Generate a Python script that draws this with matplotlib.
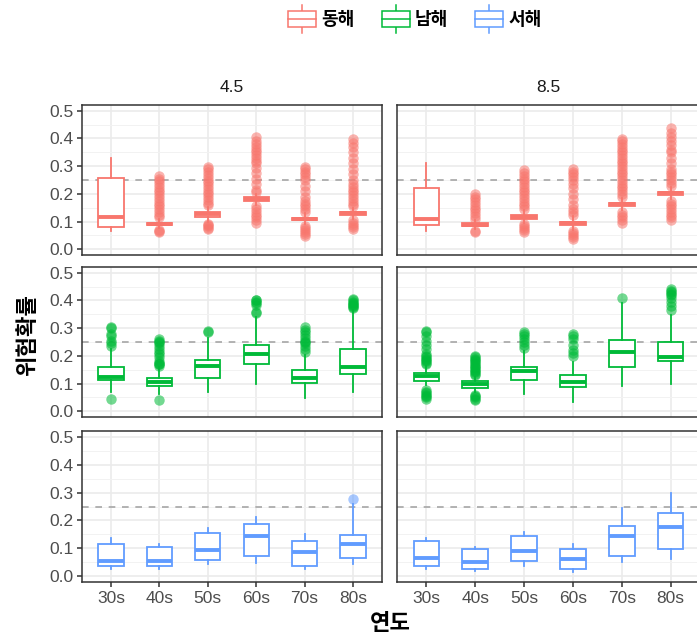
import matplotlib
matplotlib.use("Agg")
import matplotlib.pyplot as plt
from matplotlib.font_manager import FontProperties
from matplotlib.legend_handler import HandlerBase
from matplotlib.lines import Line2D
from matplotlib.patches import Patch, Rectangle

plt.rcParams["font.family"] = ["Liberation Sans", "DejaVu Sans"]
KR = ["Noto Sans CJK KR", "DejaVu Sans"]

# --- data -------------------------------------------------------------------
decades = ["30s", "40s", "50s", "60s", "70s", "80s"]
regions = ["동해", "남해", "서해"]
scenarios = ["4.5", "8.5"]
threshold = 0.25

# rows: 동해, 남해, 서해 ; columns: decades
med_45 = [[0.115, 0.091, 0.127, 0.181, 0.109, 0.130],
          [0.125, 0.105, 0.162, 0.208, 0.121, 0.160],
          [0.053, 0.056, 0.095, 0.143, 0.086, 0.116]]
q1_45 = [[0.079, 0.086, 0.117, 0.175, 0.104, 0.125],
         [0.114, 0.090, 0.121, 0.169, 0.102, 0.133],
         [0.036, 0.035, 0.059, 0.071, 0.036, 0.066]]
q3_45 = [[0.258, 0.096, 0.136, 0.187, 0.114, 0.135],
         [0.160, 0.121, 0.186, 0.238, 0.148, 0.226],
         [0.116, 0.104, 0.156, 0.188, 0.126, 0.149]]
lo_45 = [[0.064, 0.075, 0.098, 0.160, 0.090, 0.110],
         [0.069, 0.063, 0.071, 0.097, 0.048, 0.071],
         [0.024, 0.024, 0.044, 0.048, 0.026, 0.042]]
hi_45 = [[0.328, 0.110, 0.152, 0.200, 0.130, 0.150],
         [0.226, 0.160, 0.263, 0.341, 0.202, 0.366],
         [0.138, 0.114, 0.173, 0.212, 0.152, 0.260]]

med_85 = [[0.108, 0.088, 0.115, 0.094, 0.162, 0.202],
          [0.126, 0.097, 0.144, 0.105, 0.214, 0.196],
          [0.065, 0.052, 0.089, 0.062, 0.143, 0.176]]
q1_85 = [[0.088, 0.083, 0.108, 0.088, 0.157, 0.197],
         [0.109, 0.085, 0.114, 0.087, 0.160, 0.182],
         [0.038, 0.026, 0.053, 0.024, 0.072, 0.096]]
q3_85 = [[0.220, 0.093, 0.122, 0.100, 0.167, 0.207],
         [0.139, 0.109, 0.160, 0.130, 0.257, 0.251],
         [0.125, 0.096, 0.143, 0.098, 0.181, 0.227]]
lo_85 = [[0.066, 0.072, 0.095, 0.070, 0.140, 0.180],
         [0.093, 0.068, 0.063, 0.033, 0.090, 0.099],
         [0.025, 0.018, 0.038, 0.014, 0.050, 0.062]]
hi_85 = [[0.3125, 0.105, 0.140, 0.120, 0.185, 0.225],
         [0.162, 0.125, 0.218, 0.178, 0.390, 0.347],
         [0.137, 0.104, 0.157, 0.114, 0.246, 0.299]]

fliers_45 = [
    [[],
     [0.062, 0.066, 0.070, 0.115, 0.125, 0.135, 0.145, 0.155, 0.165, 0.175,
      0.185, 0.195, 0.205, 0.215, 0.225, 0.235, 0.245, 0.255, 0.266],
     [0.072, 0.077, 0.082, 0.087, 0.092, 0.158, 0.168, 0.178, 0.188, 0.198,
      0.208, 0.218, 0.228, 0.238, 0.248, 0.258, 0.268, 0.278, 0.288, 0.296],
     [0.096, 0.105, 0.115, 0.125, 0.135, 0.145, 0.155, 0.205, 0.215, 0.235,
      0.255, 0.275, 0.295, 0.31, 0.32, 0.33, 0.34, 0.35, 0.36, 0.37, 0.38,
      0.39, 0.404],
     [0.048, 0.055, 0.062, 0.070, 0.078, 0.085, 0.135, 0.145, 0.155, 0.165,
      0.175, 0.19, 0.21, 0.23, 0.25, 0.26, 0.27, 0.28, 0.29, 0.296],
     [0.072, 0.080, 0.088, 0.096, 0.104, 0.155, 0.165, 0.175, 0.185, 0.195,
      0.205, 0.215, 0.225, 0.235, 0.25, 0.27, 0.29, 0.31, 0.33, 0.35, 0.37,
      0.385, 0.398]],
    [[0.045, 0.235, 0.245, 0.255, 0.27, 0.28, 0.30, 0.305],
     [0.039, 0.165, 0.17, 0.172, 0.175, 0.18, 0.195, 0.205, 0.215, 0.225,
      0.235, 0.245, 0.25, 0.255, 0.26],
     [0.287, 0.29],
     [0.353, 0.36, 0.385, 0.39, 0.395, 0.40, 0.402],
     [0.215, 0.225, 0.235, 0.245, 0.25, 0.255, 0.265, 0.275, 0.285, 0.295,
      0.305],
     [0.372, 0.376, 0.38, 0.384, 0.388, 0.392, 0.396, 0.40, 0.405]],
    [[], [], [], [], [], [0.278]],
]
fliers_85 = [
    [[],
     [0.0625, 0.067, 0.11, 0.12, 0.13, 0.14, 0.15, 0.16, 0.17, 0.18, 0.19,
      0.20],
     [0.0625, 0.07, 0.077, 0.085, 0.09, 0.145, 0.155, 0.165, 0.175, 0.185,
      0.195, 0.205, 0.215, 0.225, 0.235, 0.245, 0.255, 0.265, 0.275, 0.285],
     [0.038, 0.045, 0.052, 0.06, 0.067, 0.125, 0.135, 0.145, 0.16, 0.18,
      0.20, 0.22, 0.235, 0.25, 0.26, 0.27, 0.28, 0.29],
     [0.096, 0.105, 0.115, 0.125, 0.135, 0.19, 0.20, 0.21, 0.22, 0.23, 0.24,
      0.25, 0.26, 0.27, 0.28, 0.29, 0.30, 0.31, 0.32, 0.33, 0.34, 0.35, 0.36,
      0.37, 0.38, 0.39, 0.398],
     [0.106, 0.115, 0.125, 0.135, 0.145, 0.155, 0.165, 0.175, 0.23, 0.24,
      0.25, 0.26, 0.27, 0.28, 0.29, 0.31, 0.33, 0.35, 0.36, 0.375, 0.39,
      0.405, 0.42, 0.4375]],
    [[0.045, 0.05, 0.055, 0.06, 0.065, 0.07, 0.075, 0.17, 0.175, 0.18, 0.185,
      0.19, 0.195, 0.20, 0.205, 0.225, 0.24, 0.255, 0.27, 0.285, 0.29],
     [0.04, 0.045, 0.05, 0.055, 0.06, 0.13, 0.135, 0.14, 0.145, 0.15, 0.155,
      0.16, 0.165, 0.17, 0.175, 0.18, 0.185, 0.19, 0.195, 0.20],
     [0.23, 0.24, 0.25, 0.26, 0.27, 0.28, 0.287],
     [0.20, 0.21, 0.22, 0.24, 0.26, 0.27, 0.28],
     [0.408],
     [0.365, 0.38, 0.395, 0.41, 0.42, 0.425, 0.43, 0.435, 0.44]],
    [[], [], [], [], [], []],
]

stats_by_scenario = {
    "4.5": (med_45, q1_45, q3_45, lo_45, hi_45, fliers_45),
    "8.5": (med_85, q1_85, q3_85, lo_85, hi_85, fliers_85),
}

# --- style / layout ----------------------------------------------------------
colors = ["#F8766D", "#00BA38", "#619CFF"]
W, H = 697, 640
col_px = [(82, 382), (397, 700)]
row_px = [(105, 255), (267, 417), (431, 582)]


class BoxKey(HandlerBase):
    def create_artists(self, legend, orig_handle, xdescent, ydescent,
                       width, height, fontsize, trans):
        col = orig_handle.get_edgecolor()
        x0, y0 = -xdescent, -ydescent
        kw = dict(color=col, lw=1.1, transform=trans)
        box = Rectangle((x0, y0 + 0.2 * height), width, 0.6 * height,
                        facecolor="white", edgecolor=col, lw=1.1,
                        transform=trans)
        med = Line2D([x0, x0 + width], [y0 + 0.5 * height] * 2, **kw)
        top = Line2D([x0 + width / 2] * 2, [y0 + 0.8 * height, y0 + height], **kw)
        bot = Line2D([x0 + width / 2] * 2, [y0, y0 + 0.2 * height], **kw)
        return [top, bot, box, med]


def main():
    fig = plt.figure(figsize=(W / 100, H / 100), dpi=100)

    for r, region in enumerate(regions):
        col = colors[r]
        for c, scen in enumerate(scenarios):
            x0, x1 = col_px[c]
            y0, y1 = row_px[r]
            ax = fig.add_axes([x0 / W, 1 - y1 / H, (x1 - x0) / W, (y1 - y0) / H])
            med, q1, q3, lo, hi, fl = stats_by_scenario[scen]
            stats = [dict(med=med[r][i], q1=q1[r][i], q3=q3[r][i],
                          whislo=lo[r][i], whishi=hi[r][i], fliers=fl[r][i],
                          label=d)
                     for i, d in enumerate(decades)]
            parts = ax.bxp(
                stats, positions=range(1, len(decades) + 1), widths=0.52,
                patch_artist=True, showcaps=False,
                boxprops=dict(facecolor="white", edgecolor=col, linewidth=1.3),
                medianprops=dict(color=col, linewidth=2.8, solid_capstyle="butt"),
                whiskerprops=dict(color=col, linewidth=1.3),
                flierprops=dict(marker="o", markerfacecolor=col,
                                markeredgecolor="none", markersize=7.5,
                                alpha=0.55),
            )
            for f in parts["fliers"]:
                f.set_zorder(1.8)

            ax.axhline(threshold, color="#A6A6A6", lw=1.2, ls=(0, (4, 4)),
                       zorder=1.5)

            ax.set_xlim(0.4, 6.6)
            ax.set_ylim(-0.021, 0.521)
            ax.set_yticks([0.0, 0.1, 0.2, 0.3, 0.4, 0.5])
            ax.set_yticks([0.05, 0.15, 0.25, 0.35, 0.45], minor=True)
            ax.set_xticks(range(1, len(decades) + 1))
            ax.set_xticklabels(decades)
            ax.set_yticklabels(["0.0", "0.1", "0.2", "0.3", "0.4", "0.5"])
            ax.set_axisbelow(True)
            ax.grid(True, which="major", color="#EBEBEB", lw=1.2)
            ax.grid(True, which="minor", axis="y", color="#F2F2F2", lw=0.7)
            for s in ax.spines.values():
                s.set_color("#333333")
                s.set_linewidth(1.1)
            ax.tick_params(which="minor", length=0)
            ax.tick_params(which="major", color="#333333", width=1.1,
                           length=3.8, labelcolor="#4D4D4D", labelsize=12.5,
                           pad=2.5)
            ax.tick_params(axis="y", left=(c == 0), labelleft=(c == 0))
            ax.tick_params(axis="x", bottom=(r == 2), labelbottom=(r == 2))

            if r == 0:
                ax.text(0.5, 1.12, scen, transform=ax.transAxes, ha="center",
                        va="center", fontsize=12.5, color="#1A1A1A")

    fig.text(28 / W, 1 - 335 / H, "위험확률", rotation=90, ha="center",
             va="center", fontsize=16, fontweight="bold", family=KR)
    fig.text(390 / W, 1 - 624 / H, "연도", ha="center", va="center",
             fontsize=16, fontweight="bold", family=KR)

    handles = [Patch(facecolor="white", edgecolor=c) for c in colors]
    fig.legend(handles, regions, loc="center",
               bbox_to_anchor=(415 / W, 1 - 19 / H), ncol=3, frameon=False,
               handler_map={Patch: BoxKey()},
               prop=FontProperties(family=KR, weight="bold", size=13),
               handlelength=1.55, handleheight=2.0, handletextpad=0.3,
               columnspacing=1.5, borderpad=0, borderaxespad=0)

    fig.savefig("out.png", dpi=100)


if __name__ == "__main__":
    main()
